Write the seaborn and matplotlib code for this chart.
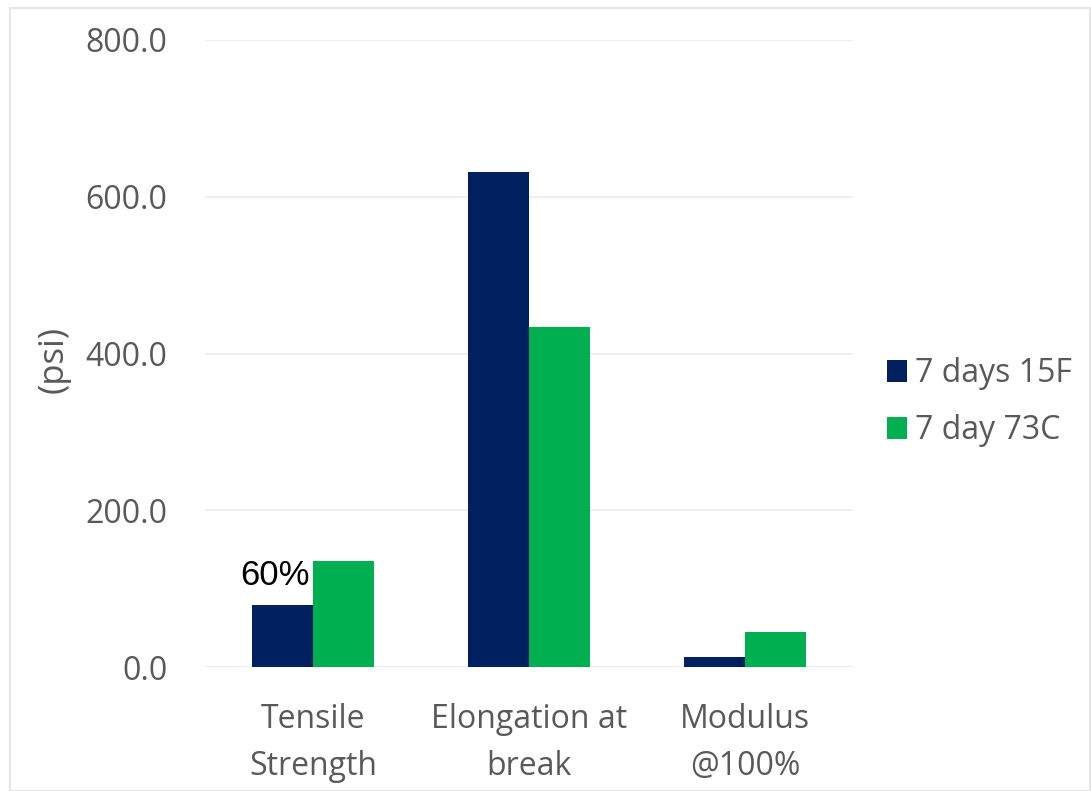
import matplotlib
matplotlib.use("Agg")
import matplotlib.pyplot as plt
import seaborn as sns
import pandas as pd

# Test properties and the two conditioning series
categories = ["Tensile\nStrength", "Elongation at\nbreak", "Modulus\n@100%"]
series_names = ["7 days 15F", "7 day 73C"]
values_15f = [79.0, 632.0, 13.0]
values_73c = [135.0, 434.0, 45.0]
y_ticks = [0, 200, 400, 600, 800]
annotation_text = "60%"

colors = ["#002060", "#00B050"]
text_gray = "#595959"

sns.set_theme(style="white")
plt.rcParams["font.family"] = ["Open Sans", "DejaVu Sans"]

df = pd.DataFrame({
    "category": categories * 2,
    "series": [series_names[0]] * 3 + [series_names[1]] * 3,
    "value": values_15f + values_73c,
})

fig = plt.figure(figsize=(10.91, 7.91), dpi=100)
ax = fig.add_axes([205 / 1091, 1 - 667 / 791, 648 / 1091, 627 / 791])

sns.barplot(data=df, x="category", y="value", hue="series",
            palette=colors, width=0.565, gap=0, saturation=1,
            edgecolor="none", linewidth=0, ax=ax, legend=True)

ax.set_xlim(-0.5, 2.5)
ax.set_ylim(0, 800)
ax.set_yticks(y_ticks)
ax.set_yticklabels([f"{v:.1f}" for v in y_ticks])
ax.yaxis.grid(True, color="#ececec", linewidth=1.2)
ax.set_axisbelow(True)
for side in ["top", "right", "left", "bottom"]:
    ax.spines[side].set_visible(False)
ax.axhline(0, color="#e3e3e3", linewidth=1.2, zorder=0)

ax.tick_params(axis="y", length=0, pad=27, labelsize=23, labelcolor=text_gray)
ax.tick_params(axis="x", length=0, pad=26, labelsize=23, labelcolor=text_gray)
for lbl in ax.get_xticklabels():
    lbl.set_linespacing(1.55)

ax.set_xlabel("")
ax.set_ylabel("(psi)", fontsize=25, color=text_gray)
ax.yaxis.set_label_coords(-0.208, 0.49)

# percentage note above the first group
ax.text(-0.176, 105, annotation_text, fontsize=25,
        color="black", ha="center", va="baseline",
        family=["Liberation Sans", "DejaVu Sans"])

leg = ax.legend(loc="center left", bbox_to_anchor=(887 / 1091, 1 - 402 / 791),
                bbox_transform=fig.transFigure, borderaxespad=0, borderpad=0,
                frameon=False, fontsize=23, handlelength=0.63,
                handleheight=0.7, handletextpad=0.25, labelspacing=0.75)
for t in leg.get_texts():
    t.set_color(text_gray)

fig.patches.append(plt.Rectangle((0.009, 0.0), 0.99, 0.99,
                                 transform=fig.transFigure, fill=False,
                                 edgecolor="#e6e6e6", linewidth=1.5))

fig.savefig("out.png", dpi=100, facecolor="white")
